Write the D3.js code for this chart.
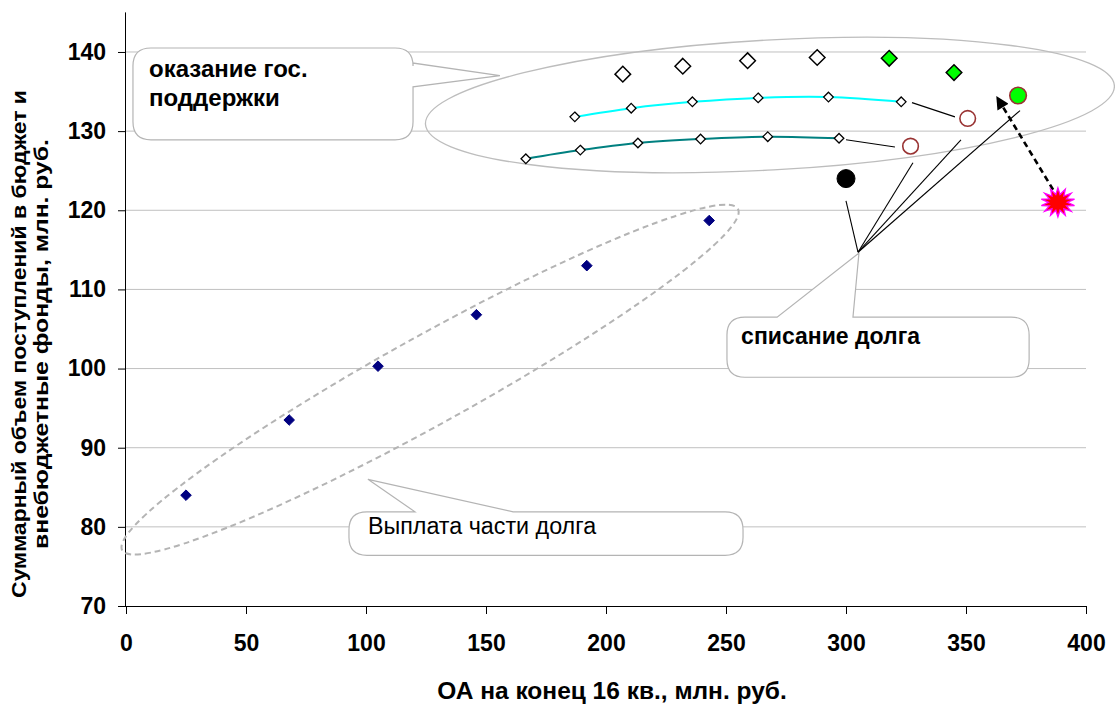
<!DOCTYPE html>
<html><head><meta charset="utf-8">
<script src="https://cdn.jsdelivr.net/npm/d3@7"></script>
<style>body{margin:0;background:#fff}svg{display:block}text{font-family:"Liberation Sans",Arial,sans-serif}</style>
</head><body><svg id="c" width="1115" height="704"></svg>
<script>
// ---- data ----
const xTicks = [0, 50, 100, 150, 200, 250, 300, 350, 400];
const yTicks = [70, 80, 90, 100, 110, 120, 130, 140];
const payX = [25, 68, 105, 146, 192, 243];
const payY = [84, 93.5, 100.3, 106.8, 113, 118.7];
const supX = [207, 232, 259, 288];
const supY = [137.2, 138.2, 138.9, 139.3];
const greenDX = [318, 345];
const greenDY = [139.2, 137.4];
const cyanX = [187, 210.5, 236, 263.4, 292.7, 323];
const cyanY = [131.8, 132.9, 133.7, 134.2, 134.3, 133.7];
const tealX = [166.6, 189.3, 213.3, 239.4, 267.4, 297.1];
const tealY = [126.5, 127.6, 128.5, 129.0, 129.3, 129.1];
const hollowX = [350.7, 326.9];
const hollowY = [131.6, 128.1];
const greenCX = [371.7];
const greenCY = [134.5];
const blackX = [300];
const blackY = [124];
const starX = [388.3];
const starY = [121];
const xTitle = "ОА на конец 16 кв., млн. руб.";
const yTitle = ["Суммарный объем поступлений в бюджет и", "внебюджетные фонды, млн. руб."];

const svg = d3.select("#c");
const x = d3.scaleLinear().domain([0, 400]).range([126, 1086]);
const y = d3.scaleLinear().domain([70, 145]).range([606, 12.4]);
const zip = (a, b) => a.map((v, i) => [v, b[i]]);
const FONT = '"Liberation Sans",Arial,sans-serif';

// gridlines
svg.append("g").selectAll("line").data(yTicks.filter(t => t > 70)).join("line")
  .attr("x1", x(0)).attr("x2", x(400)).attr("y1", d => y(d)).attr("y2", d => y(d))
  .attr("stroke", "#c0c0c0").attr("stroke-width", 1);

// axes
const gx = svg.append("g").attr("transform", `translate(0,${y(70)})`)
  .call(d3.axisBottom(x).tickValues(xTicks).tickSize(8));
const gy = svg.append("g").attr("transform", `translate(${x(0)},0)`)
  .call(d3.axisLeft(y).tickValues(yTicks).tickSize(8).tickPadding(12));
[gx, gy].forEach(g => {
  g.select(".domain").attr("stroke", "#000");
  g.selectAll(".tick line").attr("stroke", "#000");
  g.selectAll("text").attr("font-family", FONT).attr("font-size", 23).attr("font-weight", "bold").attr("fill", "#000");
});
gx.selectAll("text").attr("y", 45).attr("dy", 0);
gy.select(".domain").attr("d", `M-0.5,${y(145)}V${y(70)}`);

// titles
svg.append("text").attr("x", 612).attr("y", 699).attr("text-anchor", "middle")
  .attr("font-size", 24.5).attr("font-weight", "bold").text(xTitle);
const yt = svg.append("text").attr("transform", "translate(26,344) rotate(-90)")
  .attr("text-anchor", "middle").attr("font-size", 21).attr("font-weight", "bold");
const yLens = [508, 410];
yTitle.forEach((t, i) => yt.append("tspan").attr("x", 0).attr("dy", i ? 22 : 0)
  .attr("textLength", yLens[i]).attr("lengthAdjust", "spacingAndGlyphs").text(t));

// ---- annotations (data units for anchors) ----
const ann = {
  bigEll: {cx: 268.3, cy: 133.3, rx: 345, ry: 65, rot: -3.2},
  dashEll: {cx: 126.7, cy: 98.6, rx: 352, ry: 44, rot: -29},
  cA: {x0: 2.9, x1: 119.6, y0: 140.5, y1: 128.9, pb1: 138.6, pb2: 135.6, ax: 155.8, ay: 137.0},
  cB: {x0: 250.4, x1: 376.3, y0: 106.5, y1: 98.9, pb1: 271.3, pb2: 302.9, ax: 305.4, ay: 114.6},
  cC: {x0: 92.9, x1: 257.1, y0: 81.9, y1: 76.4, pb1: 120.4, pb2: 161.3, ax: 100.8, ay: 86.0},
  hub: [305.0, 114.7],
  spokes: [[300, 121.2], [327.9, 126.0], [347.9, 128.9], [372.5, 132.6]],
  links: [[[327.5, 133.6], [345.4, 131.8]], [[300, 128.9], [320.4, 128.0]]],
  arrow: [[386.3, 122.6], [362.9, 134.3]]
};

function ellipse(e, dash) {
  svg.append("ellipse").attr("cx", 0).attr("cy", 0).attr("rx", e.rx).attr("ry", e.ry)
    .attr("transform", `translate(${x(e.cx)},${y(e.cy)}) rotate(${e.rot})`)
    .attr("fill", "none").attr("stroke", dash ? "#b4b4b4" : "#bdbdbd")
    .attr("stroke-width", dash ? 2 : 1.3).attr("stroke-dasharray", dash ? "6,4" : null);
}
ellipse(ann.bigEll, false);
ellipse(ann.dashEll, true);

function callout(c, side) {
  const L = x(c.x0), R = x(c.x1), T = y(c.y0), B = y(c.y1), r = 18;
  const ax = x(c.ax), ay = y(c.ay);
  const p = d3.path();
  p.moveTo(L + r, T);
  if (side === "top") {
    const a = x(c.pb1), b = x(c.pb2);
    p.lineTo(a, T); p.lineTo(ax, ay); p.lineTo(b, T);
  }
  p.lineTo(R - r, T); p.quadraticCurveTo(R, T, R, T + r);
  if (side === "right") {
    p.lineTo(R, y(c.pb1)); p.lineTo(ax, ay); p.lineTo(R, y(c.pb2));
  }
  p.lineTo(R, B - r); p.quadraticCurveTo(R, B, R - r, B);
  p.lineTo(L + r, B); p.quadraticCurveTo(L, B, L, B - r);
  p.lineTo(L, T + r); p.quadraticCurveTo(L, T, L + r, T);
  p.closePath();
  svg.append("path").attr("d", p.toString()).attr("fill", "#fff").attr("stroke", "#b4b4b4").attr("stroke-width", 1.2);
}
callout(ann.cA, "right");
callout(ann.cB, "top");
callout(ann.cC, "top");

svg.append("text").attr("x", x(9.6)).attr("y", y(136.8)).attr("font-size", 24).attr("font-weight", "bold").text("оказание гос.");
svg.append("text").attr("x", x(9.6)).attr("y", y(133.2)).attr("font-size", 24).attr("font-weight", "bold").text("поддержки");
svg.append("text").attr("x", x(256.3)).attr("y", y(103.1)).attr("font-size", 23).attr("font-weight", "bold").text("списание долга");
svg.append("text").attr("x", x(100.8)).attr("y", y(79.1)).attr("font-size", 23.3).text("Выплата части долга");

// connector lines
const ln = (a, b, w = 1.1) => svg.append("line").attr("x1", x(a[0])).attr("y1", y(a[1]))
  .attr("x2", x(b[0])).attr("y2", y(b[1])).attr("stroke", "#000").attr("stroke-width", w);
ann.spokes.forEach(s => ln(ann.hub, s));
ann.links.forEach(l => ln(l[0], l[1]));

// dashed arrow
svg.append("defs").append("marker").attr("id", "ah").attr("viewBox", "0 0 10 10")
  .attr("refX", 9).attr("refY", 5).attr("markerWidth", 5.5).attr("markerHeight", 5)
  .attr("markerUnits", "strokeWidth").attr("orient", "auto")
  .append("path").attr("d", "M0,0L10,5L0,10z").attr("fill", "#000");
svg.append("line").attr("x1", x(ann.arrow[0][0])).attr("y1", y(ann.arrow[0][1]))
  .attr("x2", x(ann.arrow[1][0])).attr("y2", y(ann.arrow[1][1]))
  .attr("stroke", "#000").attr("stroke-width", 2.6).attr("stroke-dasharray", "6,4")
  .attr("marker-end", "url(#ah)");

// ---- series ----
function diamondPath(h) { return `M0,${-h}L${h},0L0,${h}L${-h},0Z`; }

const lineGen = d3.line().x(d => x(d[0])).y(d => y(d[1])).curve(d3.curveCatmullRom.alpha(0.5));
svg.append("path").attr("d", lineGen(zip(cyanX, cyanY))).attr("fill", "none").attr("stroke", "#00ffff").attr("stroke-width", 2);
svg.append("path").attr("d", lineGen(zip(tealX, tealY))).attr("fill", "none").attr("stroke", "#008080").attr("stroke-width", 2);

function pts(xs, ys, h, fill, stroke, sw) {
  svg.append("g").selectAll("path").data(zip(xs, ys)).join("path")
    .attr("transform", d => `translate(${x(d[0])},${y(d[1])})`)
    .attr("d", diamondPath(h)).attr("fill", fill).attr("stroke", stroke).attr("stroke-width", sw);
}
pts(cyanX, cyanY, 4.8, "#fff", "#000", 1.3);
pts(tealX, tealY, 4.8, "#fff", "#000", 1.3);
pts(payX, payY, 5.3, "#000080", "#000080", 1);
pts(supX, supY, 7.8, "#fff", "#000", 1.5);
pts(greenDX, greenDY, 7.8, "#00ff00", "#000", 1.5);

function circ(xs, ys, r, fill, stroke, sw) {
  svg.append("g").selectAll("circle").data(zip(xs, ys)).join("circle")
    .attr("cx", d => x(d[0])).attr("cy", d => y(d[1])).attr("r", r)
    .attr("fill", fill).attr("stroke", stroke).attr("stroke-width", sw);
}
circ(hollowX, hollowY, 7.8, "#fff", "#993333", 1.6);
circ(greenCX, greenCY, 8.3, "#00ff00", "#993333", 1.6);
circ(blackX, blackY, 9, "#000", "#000", 1);

function starPath(n, ro, ri, sy) {
  let s = "";
  for (let i = 0; i < 2 * n; i++) {
    const r = i % 2 ? ri : ro, a = Math.PI * i / n - Math.PI / 2;
    s += (i ? "L" : "M") + (r * Math.cos(a)).toFixed(2) + "," + (r * Math.sin(a) * sy).toFixed(2);
  }
  return s + "Z";
}
svg.append("g").selectAll("path").data(zip(starX, starY)).join("path")
  .attr("transform", d => `translate(${x(d[0])},${y(d[1])})`)
  .attr("d", starPath(14, 17, 9.5, 0.85)).attr("fill", "#ff0000").attr("stroke", "#ff00ff").attr("stroke-width", 1.3);
</script></body></html>
